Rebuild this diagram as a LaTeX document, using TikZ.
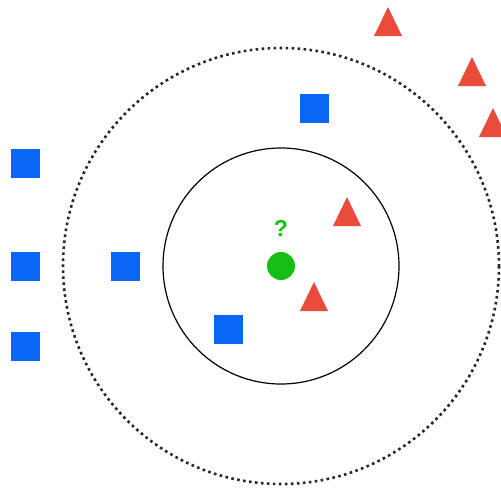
\documentclass[tikz,border=0pt]{standalone}
\usepackage{fontspec}
\setsansfont{Liberation Sans}
\usepackage{xcolor}
\usetikzlibrary{positioning}

\definecolor{sqblue}{RGB}{10,102,245}
\definecolor{trired}{RGB}{234,76,60}
\definecolor{qgreen}{RGB}{22,190,22}

\begin{document}
\begin{tikzpicture}[
    x=1pt, y=-1pt,
    square/.style={rectangle, fill=sqblue, minimum size=29pt, inner sep=0pt},
    tri/.style={fill=trired},
    query/.style={circle, fill=qgreen, minimum size=28pt, inner sep=0pt},
    kthree/.style={draw=black, line width=1.2pt},
    kfive/.style={draw=black!85, line width=2.6pt, dash pattern=on 2.6pt off 3.4pt}
]
\useasboundingbox (0,0) rectangle (501,488);

% Query point
\node (query) [query] at (281,266) {};
\node (qmark) [above=15pt of query, font=\sffamily\bfseries\fontsize{23}{23}\selectfont, text=qgreen, inner sep=0pt] {?};

% Neighbourhoods
\draw [kthree] (query.center) circle (118);
\draw [kfive] (query.center) circle (218);

% Class A
\node (sqa) [square] at (25,163) {};
\node (sqb) [square] at (25,266) {};
\node (sqc) [square] at (25,346) {};
\node (sqd) [square] at (125,266) {};
\node (sqe) [square] at (314,108) {};
\node (sqf) [square] at (228,329) {};

% Class B
\fill [tri] (388,7) -- (402,36) -- (374,36) -- cycle;
\fill [tri] (472,57) -- (486,86) -- (458,86) -- cycle;
\fill [tri] (493,108) -- (507,137) -- (479,137) -- cycle;
\fill [tri] (347,197) -- (361,226) -- (333,226) -- cycle;
\fill [tri] (314,282) -- (328,311) -- (300,311) -- cycle;

\end{tikzpicture}
\end{document}
